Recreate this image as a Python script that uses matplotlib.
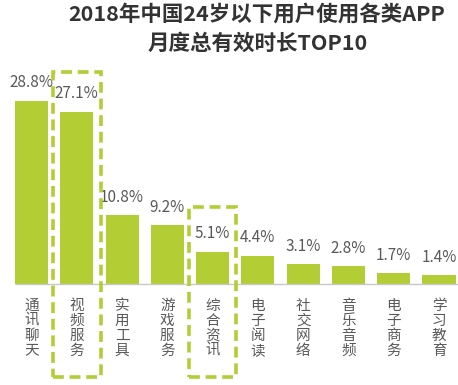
import matplotlib
matplotlib.use("Agg")
import matplotlib.pyplot as plt
from matplotlib.patches import Rectangle

plt.rcParams['font.family'] = ['Noto Sans CJK SC', 'DejaVu Sans']

categories = ["通讯聊天", "视频服务", "实用工具", "游戏服务", "综合资讯",
              "电子阅读", "社交网络", "音乐音频", "电子商务", "学习教育"]
values = [28.8, 27.1, 10.8, 9.2, 5.1, 4.4, 3.1, 2.8, 1.7, 1.4]
value_labels = ["28.8%", "27.1%", "10.8%", "9.2%", "5.1%", "4.4%", "3.1%", "2.8%", "1.7%", "1.4%"]
highlight = [1, 4]
title1 = "2018年中国24岁以下用户使用各类APP"
title2 = "月度总有效时长TOP10"

W, H = 458, 385
fig = plt.figure(figsize=(W / 100, H / 100), dpi=100)

green = '#b3cd35'
gray_text = '#595959'

# axes geometry in pixels
pitch = 45.28
c0 = 31.5
base_px = 284          # from top
scale = 6.36           # px per %
ymax = 30
left_px = c0 - 0.5 * pitch
right_px = c0 + 9.5 * pitch
ax = fig.add_axes([left_px / W, (H - base_px) / H,
                   (right_px - left_px) / W, ymax * scale / H])
ax.set_xlim(-0.5, 9.5)
ax.set_ylim(0, ymax)
ax.axis('off')

x = list(range(len(categories)))
ax.bar(x, values, width=0.73, color=green, zorder=2)
ax.hlines(0, -0.36, 9.6, colors='#c8c8c8', linewidth=1, clip_on=False, zorder=3)

for xi, v, lab in zip(x, values, value_labels):
    ax.annotate(lab, (xi, v), xytext=(0, 13), textcoords='offset points',
                ha='center', va='center', fontsize=11, color=gray_text)

for xi, cat in zip(x, categories):
    ax.text(xi, -(299 - base_px) / scale, "\n".join(cat), ha='center', va='top',
            fontsize=10.5, color=gray_text, linespacing=1.08)

# dashed highlight boxes
for xi in highlight:
    top_px = 72 if xi == 1 else 207
    top = (base_px - top_px) / scale
    bottom = (base_px - 377) / scale
    rect = Rectangle((xi - 0.525, bottom), 1.05, top - bottom, fill=False,
                     edgecolor=green, linewidth=2.6, linestyle=(0, (3, 1.6)),
                     clip_on=False, zorder=4)
    ax.add_patch(rect)

fig.text(257 / W, 1 - 14 / H, title1, ha='center', va='center',
         fontsize=15.5, fontweight='bold', color='#333333')
fig.text(258 / W, 1 - 43 / H, title2, ha='center', va='center',
         fontsize=15.5, fontweight='bold', color='#333333')

fig.savefig('out.png', dpi=100)
